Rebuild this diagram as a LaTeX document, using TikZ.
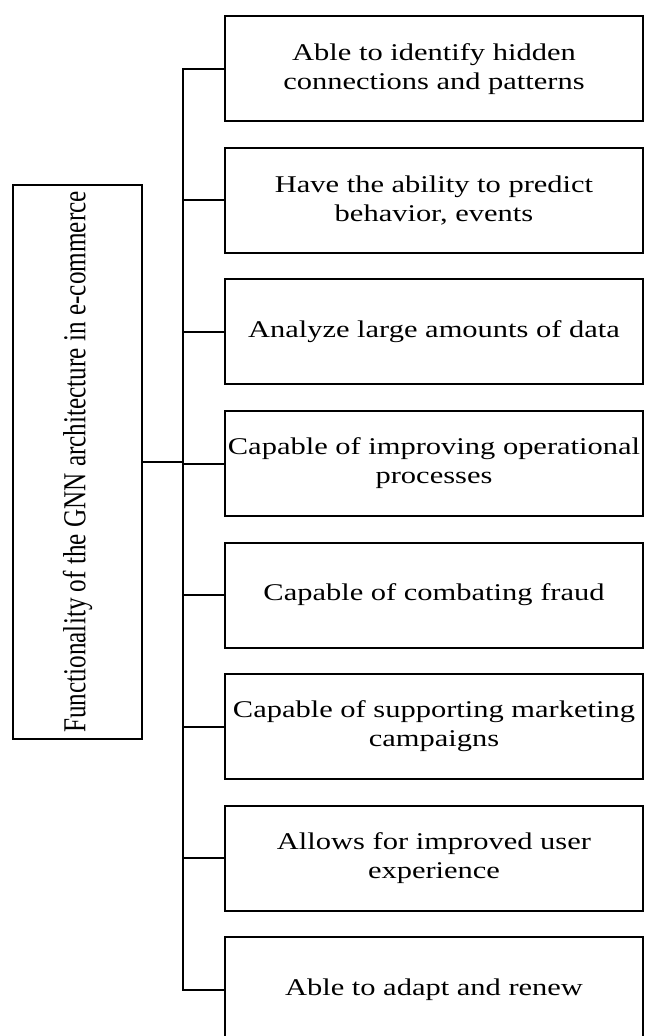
\documentclass[tikz,border=0pt]{standalone}
\usepackage{fontspec}
\setmainfont{Liberation Serif}
\newfontfamily\widefont{Liberation Serif}[FakeStretch=1.27]
\usetikzlibrary{positioning}

\begin{document}
\begin{tikzpicture}[
    node distance=12.25pt,
    line width=1pt,
    item/.style={draw, minimum width=209pt, minimum height=52.5pt, inner sep=1pt,
        align=center, font=\widefont\fontsize{12}{14.5}\selectfont},
    root/.style={draw, rotate=90, minimum width=277pt, minimum height=64.5pt,
        inner sep=0pt, font=\fontsize{12.6}{15}\selectfont}
]

\useasboundingbox (0,0) rectangle (323pt,-518pt);

\node[item] (b1) at (217pt,-34.5pt) {Able to identify hidden\\connections and patterns};
\node[item] (b2) [below=of b1] {Have the ability to predict\\behavior, events};
\node[item] (b3) [below=of b2] {Analyze large amounts of data};
\node[item] (b4) [below=of b3] {Capable of improving operational\\processes};
\node[item] (b5) [below=of b4] {Capable of combating fraud};
\node[item] (b6) [below=of b5] {Capable of supporting marketing\\campaigns};
\node[item] (b7) [below=of b6] {Allows for improved user\\experience};
\node[item] (b8) [below=of b7] {Able to adapt and renew};

\node[root] (func) at (38.75pt,-231pt) {\scalebox{1}[1.27]{Functionality of the GNN architecture in e-commerce}};

\coordinate (tk) at (91.5pt,0);
\draw (b1.west) -| (b8.west -| tk) -- (b8.west);
\foreach \i in {2,...,7}
    \draw (b\i.west) -- (b\i.west -| tk);
\draw (func.south) -- (func.south -| tk);

\end{tikzpicture}
\end{document}
